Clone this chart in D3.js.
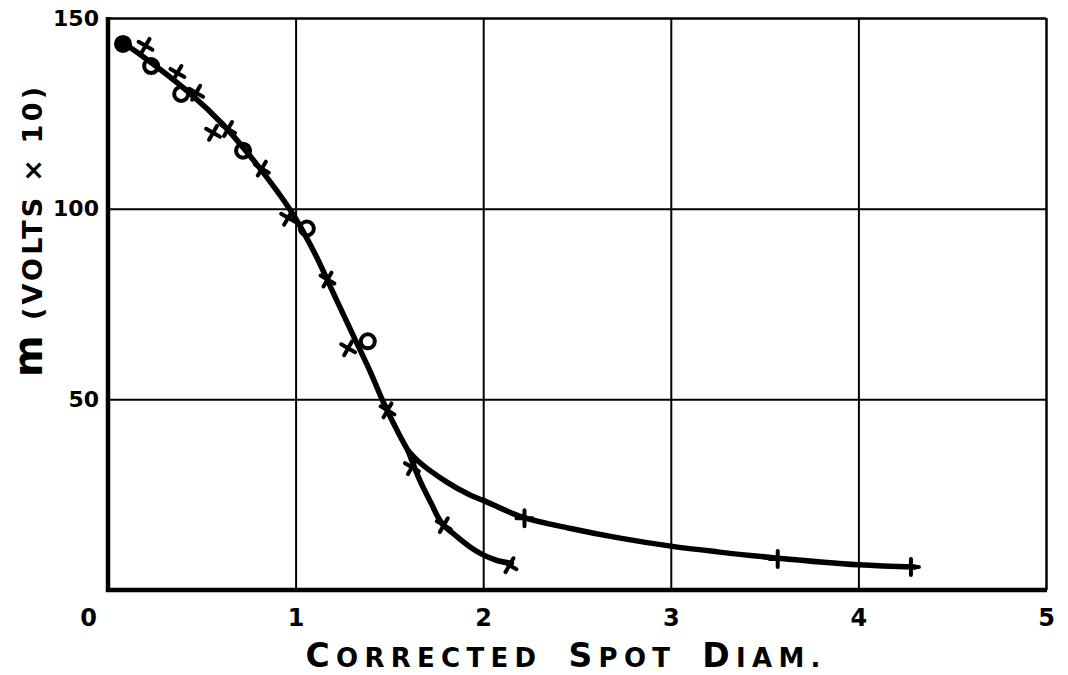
<!DOCTYPE html>
<html>
<head>
<meta charset="utf-8">
<script src="https://cdn.jsdelivr.net/npm/d3@7"></script>
<style>
  body { margin: 0; background: #fff; }
  svg { display: block; }
  text { font-family: "DejaVu Sans", sans-serif; font-weight: bold; fill: #000; }
</style>
</head>
<body>
<main></main>
<script>
// tick values
const xTicks = [0, 1, 2, 3, 4, 5]
const yTicks = [50, 100, 150]

// smooth curve drawn through the points (common part, then two branches)
const mainX = [0.08, 0.155, 0.44, 0.61, 0.79, 0.98, 1.1, 1.2, 1.3, 1.4, 1.47, 1.55, 1.6]
const mainY = [143.5, 141, 130.1, 122.2, 111.8, 99, 88.5, 78, 67.5, 57, 49, 41, 36.5]

const lowerX = [1.6, 1.66, 1.72, 1.78, 1.86, 1.93, 2.0, 2.07, 2.15]
const lowerY = [36.5, 29, 23, 17.5, 14, 11.3, 9.2, 7.8, 7.0]

const upperX = [1.6, 1.66, 1.8, 1.93, 2.0, 2.21, 2.46, 2.73, 3.0, 3.25, 3.56, 4.0, 4.3]
const upperY = [36.5, 33.5, 28.5, 24.9, 23.5, 19.1, 16.2, 13.6, 11.5, 10, 8.4, 6.6, 6.0]

// observed points: "dot" filled circle, "o" open circle, "x" and "+" crosses
const ptX = [0.08, 0.2, 0.23, 0.37, 0.39, 0.47, 0.56, 0.64, 0.72, 0.82, 0.96, 1.06, 1.17, 1.28, 1.385, 1.49, 1.62, 1.79, 2.14, 2.22, 3.57, 4.28]
const ptY = [143.2, 142.7, 137.4, 135.6, 130.1, 130.4, 119.9, 120.9, 115.2, 110.5, 97.6, 94.8, 81.4, 63.4, 65.2, 47.1, 32.2, 17.0, 6.5, 18.8, 8.1, 6.0]
const ptType = ["dot", "x", "o", "x", "o", "x", "x", "x", "o", "x", "x", "o", "x", "x", "o", "x", "x", "x", "x", "+", "+", "+"]

const w = 1068
const h = 675

const svg = d3.select("main").append("svg").attr("width", w).attr("height", h)

const x = d3.scaleLinear().domain([0, 5]).range([108, 1046])
const y = d3.scaleLinear().domain([0, 150]).range([590, 18])

// grid + x labels
const xAxis = svg
  .append("g")
  .attr("transform", `translate(0,${y(0)})`)
  .call(
    d3.axisBottom(x)
      .tickValues(xTicks)
      .tickSize(-(y(0) - y(150)))
      .tickSizeOuter(0)
      .tickPadding(19)
      .tickFormat(d3.format("d"))
  )
xAxis.select(".domain").remove()
xAxis.selectAll(".tick line").attr("stroke", "#000").attr("stroke-width", (d) => (d === 5 ? 2.5 : 2))
xAxis.selectAll(".tick text").attr("font-size", 24).attr("dx", (d) => (d === 0 ? -20 : 0))
xAxis.selectAll(".tick").filter((d) => d === 0).select("line").remove()

// grid + y labels
const yAxis = svg
  .append("g")
  .attr("transform", `translate(${x(0)},0)`)
  .call(
    d3.axisLeft(y)
      .tickValues(yTicks)
      .tickSize(-(x(5) - x(0)))
      .tickSizeOuter(0)
      .tickPadding(9)
  )
yAxis.select(".domain").remove()
yAxis.selectAll(".tick line").attr("stroke", "#000").attr("stroke-width", (d) => (d === 150 ? 2.5 : 2))
yAxis.selectAll(".tick text").attr("font-size", 22)

// heavy left and bottom axis lines
svg.append("path")
  .attr("d", d3.line()([[x(0), y(150) - 1], [x(0), y(0)], [x(5) + 1, y(0)]]))
  .attr("fill", "none")
  .attr("stroke", "#000")
  .attr("stroke-width", 4.5)

// curves
const line = d3.line()
  .x((d) => x(d[0]))
  .y((d) => y(d[1]))
  .curve(d3.curveCatmullRom.alpha(0.5))

const curves = [
  d3.zip(mainX, mainY),
  d3.zip(lowerX, lowerY),
  d3.zip(upperX, upperY),
]

svg.selectAll(".curve")
  .data(curves)
  .enter()
  .append("path")
  .attr("class", "curve")
  .attr("d", line)
  .attr("fill", "none")
  .attr("stroke", "#000")
  .attr("stroke-width", 5.5)
  .attr("stroke-linecap", "round")
  .attr("stroke-linejoin", "round")

// markers
const pts = ptX.map((v, i) => ({ x: v, y: ptY[i], type: ptType[i] }))

const marks = svg.selectAll(".mark")
  .data(pts)
  .enter()
  .append("g")
  .attr("class", "mark")
  .attr("transform", (d) => `translate(${x(d.x)},${y(d.y)})`)

marks.filter((d) => d.type === "dot")
  .append("circle")
  .attr("r", 9)
  .attr("fill", "#000")

marks.filter((d) => d.type === "o")
  .append("circle")
  .attr("r", 7)
  .attr("fill", "none")
  .attr("stroke", "#000")
  .attr("stroke-width", 4)

marks.filter((d) => d.type === "x" || d.type === "+")
  .append("path")
  .attr("d", "M-8,0L8,0M0,-8L0,8")
  .attr("transform", (d) => (d.type === "x" ? "rotate(30)" : "rotate(0)"))
  .attr("stroke", "#000")
  .attr("stroke-width", 4)
  .attr("stroke-linecap", "round")

// axis titles
const xTitle = svg.append("text")
  .attr("x", 563)
  .attr("y", 667)
  .attr("text-anchor", "middle")
  .attr("textLength", 515)
  .attr("lengthAdjust", "spacing")
const words = ["CORRECTED", "SPOT", "DIAM."]
words.forEach((wd, i) => {
  xTitle.append("tspan").attr("font-size", 33).attr("dx", i ? 26 : 0).text(wd[0])
  xTitle.append("tspan").attr("font-size", 26).text(wd.slice(1))
})

const yTitle = svg.append("text")
  .attr("transform", "translate(42,232) rotate(-90)")
  .attr("text-anchor", "middle")
  .attr("textLength", 290)
  .attr("lengthAdjust", "spacing")
yTitle.append("tspan").attr("font-size", 40).text("m")
yTitle.append("tspan").attr("font-size", 27).attr("dx", 12).text("(VOLTS × 10)")
</script>
</body>
</html>
